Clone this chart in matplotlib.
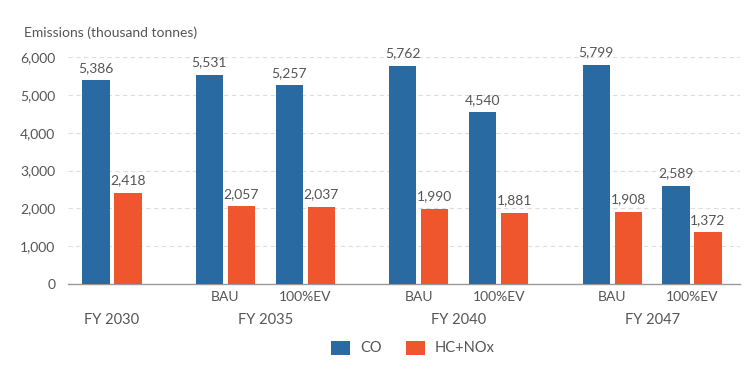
import matplotlib
matplotlib.use("Agg")
import matplotlib.pyplot as plt
import numpy as np

plt.rcParams['font.family'] = ['Lato', 'DejaVu Sans']

years = ["FY 2030", "FY 2035", "FY 2040", "FY 2047"]
scenarios = [[""], ["BAU", "100%EV"], ["BAU", "100%EV"], ["BAU", "100%EV"]]
co = [5386, 5531, 5257, 5762, 4540, 5799, 2589]
hc_nox = [2418, 2057, 2037, 1990, 1881, 1908, 1372]
series_names = ["CO", "HC+NOx"]
yticks = [0, 1000, 2000, 3000, 4000, 5000, 6000]

c_co = "#2A6AA3"
c_hc = "#F0562E"
txt = "#555555"

group_gap = 1.42
pos = []
year_centers = []
x = 0.0
for gi, subs in enumerate(scenarios):
    start = x
    for si, s in enumerate(subs):
        pos.append(x)
        x += 1.0
    year_centers.append((start + x - 1.0) / 2)
    x += group_gap - 1.0
pos = np.array(pos)

fig = plt.figure(figsize=(7.55, 3.84), dpi=100)
ax = fig.add_axes([68/755, 1-284/384, (740-68)/755, (284-57)/384])

w = 0.34
off = 0.2
b1 = ax.bar(pos - off, co, width=w, color=c_co, label=series_names[0], zorder=3)
b2 = ax.bar(pos + off, hc_nox, width=w, color=c_hc, label=series_names[1], zorder=3)

for bars, vals in ((b1, co), (b2, hc_nox)):
    for b, v in zip(bars, vals):
        ax.text(b.get_x() + b.get_width()/2, v + 170, f"{v:,}", ha="center", va="bottom",
                fontsize=10, color=txt)

ax.set_ylim(0, 6000)
ax.set_xlim(pos[0] - 0.55, pos[-1] + 0.6)
ax.set_yticks(yticks)
ax.set_yticklabels([f"{t:,}" for t in yticks], fontsize=10, color=txt)
ax.tick_params(axis="y", length=0, pad=9)
ax.set_xticks([])
for t in yticks[1:]:
    ax.axhline(t, color="#dddddd", linestyle=(0, (4, 3)), linewidth=0.8, zorder=1)
for s in ["top", "right", "left"]:
    ax.spines[s].set_visible(False)
ax.spines["bottom"].set_color("#999999")
ax.spines["bottom"].set_linewidth(1.0)

flat_subs = [s for subs in scenarios for s in subs]
for p, s in zip(pos, flat_subs):
    if s:
        ax.text(p, -350, s, ha="center", va="center", fontsize=10, color=txt, clip_on=False)
for yc, yl in zip(year_centers, years):
    ax.text(yc, -960, yl, ha="center", va="center", fontsize=10.5, color=txt, clip_on=False)

fig.text(24/755, 1-33/384, "Emissions (thousand tonnes)", ha="left", va="center",
         fontsize=10, color=txt)

fig.legend(handles=[b1, b2], labels=series_names, loc="center",
           bbox_to_anchor=(413/755, 1-348/384), ncol=2, frameon=False,
           fontsize=10.5, labelcolor=txt, handlelength=1.3, handleheight=1.1,
           columnspacing=1.6, handletextpad=0.7)

fig.savefig("out.png", dpi=100, facecolor="white")
